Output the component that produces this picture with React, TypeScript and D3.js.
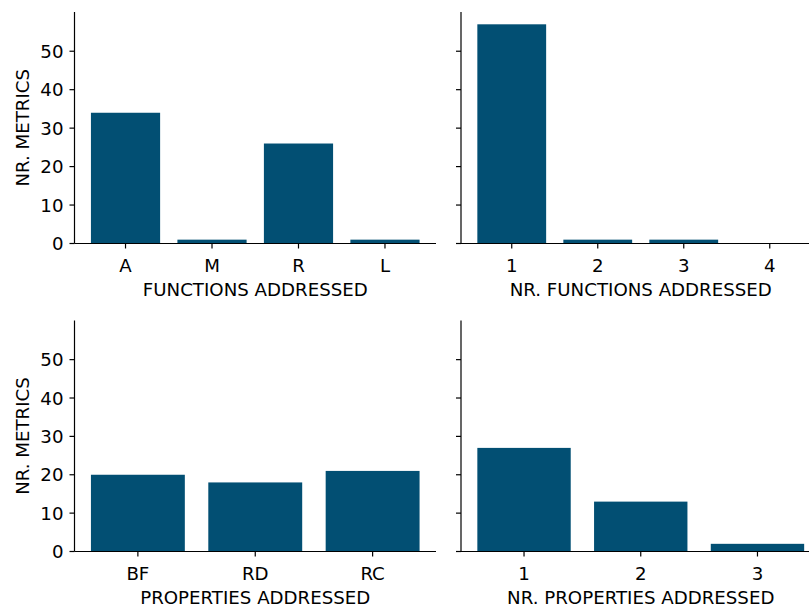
import React from 'react';
import * as d3 from 'd3';

const functionCats = ['A', 'M', 'R', 'L'];
const functionCounts = [34, 1, 26, 1];

const nrFunctionCats = ['1', '2', '3', '4'];
const nrFunctionCounts = [57, 1, 1, 0];

const propertyCats = ['BF', 'RD', 'RC'];
const propertyCounts = [20, 18, 21];

const nrPropertyCats = ['1', '2', '3'];
const nrPropertyCounts = [27, 13, 2];

const yTicks = [0, 10, 20, 30, 40, 50];
const yMax = 60.2;

const BAR = '#024f73';
const FONT = 'DejaVu Sans, sans-serif';
const FS = 18.2;

type PanelProps = {
  cats: string[];
  values: number[];
  left: number;
  right: number;
  top: number;
  bottom: number;
  xLabel: string;
  yLabel?: string;
};

function Panel({ cats, values, left, right, top, bottom, xLabel, yLabel }: PanelProps) {
  const n = cats.length;
  // matplotlib style: bar width 0.8, 5% margins on the data extent
  const pad = 0.05 * (n - 0.2);
  const x = d3.scaleLinear().domain([-0.4 - pad, n - 1 + 0.4 + pad]).range([left, right]);
  const y = d3.scaleLinear().domain([0, yMax]).range([bottom, top]);
  const bw = x(0.8) - x(0);

  return (
    <g>
      {values.map((v, i) => (
        <rect
          key={i}
          x={x(i - 0.4)}
          y={y(v)}
          width={bw}
          height={y(0) - y(v)}
          fill={BAR}
        />
      ))}

      {/* spines */}
      <line x1={left} x2={left} y1={top} y2={bottom} stroke="#000" strokeWidth={1.2} />
      <line x1={left} x2={right} y1={bottom} y2={bottom} stroke="#000" strokeWidth={1.2} />

      {yTicks.map((t) => (
        <g key={t}>
          <line x1={left - 5} x2={left} y1={y(t)} y2={y(t)} stroke="#000" strokeWidth={1.2} />
          {yLabel && (
            <text x={left - 11} y={y(t)} dy="0.36em" textAnchor="end" fontSize={FS} fontFamily={FONT}>
              {t}
            </text>
          )}
        </g>
      ))}

      {cats.map((c, i) => (
        <g key={c}>
          <line x1={x(i)} x2={x(i)} y1={bottom} y2={bottom + 5} stroke="#000" strokeWidth={1.2} />
          <text x={x(i)} y={bottom + 28} textAnchor="middle" fontSize={FS} fontFamily={FONT}>
            {c}
          </text>
        </g>
      ))}

      <text x={(left + right) / 2} y={bottom + 52.5} textAnchor="middle" fontSize={FS} fontFamily={FONT}>
        {xLabel}
      </text>

      {yLabel && (
        <text
          transform={`translate(28.6, ${(top + bottom) / 2}) rotate(-90)`}
          textAnchor="middle"
          fontSize={FS}
          fontFamily={FONT}
        >
          {yLabel}
        </text>
      )}
    </g>
  );
}

export default function App() {
  const L = [74.5, 436];
  const R = [461, 820.5];
  const T = [12, 243.5];
  const B = [320.5, 551.5];

  return (
    <svg
      width={809}
      height={607}
      style={{ position: 'absolute', left: 0, top: 0, background: '#fff' }}
    >
      <Panel cats={functionCats} values={functionCounts} left={L[0]} right={L[1]} top={T[0]} bottom={T[1]}
        xLabel="FUNCTIONS ADDRESSED" yLabel="NR. METRICS" />
      <Panel cats={nrFunctionCats} values={nrFunctionCounts} left={R[0]} right={R[1]} top={T[0]} bottom={T[1]}
        xLabel="NR. FUNCTIONS ADDRESSED" />
      <Panel cats={propertyCats} values={propertyCounts} left={L[0]} right={L[1]} top={B[0]} bottom={B[1]}
        xLabel="PROPERTIES ADDRESSED" yLabel="NR. METRICS" />
      <Panel cats={nrPropertyCats} values={nrPropertyCounts} left={R[0]} right={R[1]} top={B[0]} bottom={B[1]}
        xLabel="NR. PROPERTIES ADDRESSED" />
    </svg>
  );
}
